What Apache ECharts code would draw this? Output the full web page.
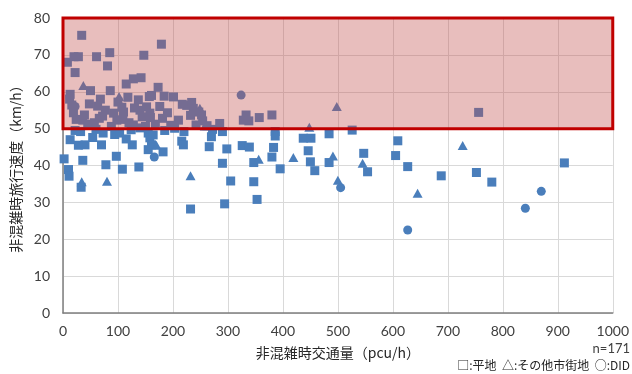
<!DOCTYPE html>
<html>
<head>
<meta charset="utf-8">
<script src="https://cdn.jsdelivr.net/npm/echarts@6/dist/echarts.min.js"></script>
<style>
  html, body { margin: 0; padding: 0; background: #ffffff; }
  #chart { width: 632px; height: 374px; }
</style>
</head>
<body>
<div id="chart"></div>
<script>
// Uncongested traffic volume (pcu/h) vs. uncongested travel speed (km/h)
// 平地 (flat land) sections
const plainPts = [
  [34,75.3],[8,68],[22,65.2],[20,69.5],[28,69.5],[61,69.5],[85,70.6],[81,67],[147,69.9],[179,72.9],
  [13,59.3],[12,58],[50,60.3],[86,60.3],[115,62.1],[128,63.5],[142,63.8],[173,61.2],[184,58.8],[201,58.6],
  [157,58.7],[137,57.8],[68,58],[16,56.4],[48,56.7],[63,56.1],[77,55],[107,55.8],[110,54.5],[140,55],
  [152,55.9],[176,56],[217,56.6],[225,56.3],[234,57.1],[237,55.5],[247,54.5],[252,53.7],[39,53.7],[66,52.8],
  [36,52.3],[98,52.3],[109,52.5],[144,53.2],[159,53],[181,52.8],[128,51],[19,54.3],[285,51.4],[333,53.7],
  [328,52.3],[338,52.1],[357,53],[380,53.7],[756,54.4],[161,59],[158,54.2],[254,52.1],
  [92,54.2],[120,51.6],[168,51.2],[196,50.9],[57,51.6],[232,53.6],[262,50.8],[100,57.2],[45,51.2],
  [88,50.6],[150,50.6],[210,52.3],[242,51],[24,52.5],[130,55.6],[190,54.3],[72,53.4],[118,58.5],
  [13,47],[22,49.5],[32,49.2],[54,47.6],[40,45.6],[70,45.6],[73,48.8],[94,48.4],[103,48.8],[126,45.6],
  [124,49.7],[155,48.8],[158,47.5],[155,44.3],[182,43.7],[2,41.8],[36,41.4],[97,42.5],[78,40.2],[108,39],
  [138,39.6],[10,38.9],[11,37.1],[33,34.1],[203,50.1],[220,49.2],[216,46.6],[219,45.6],[270,47.8],[272,49.8],
  [290,49.2],[266,45.1],[298,44.5],[326,45.4],[339,45],[290,40.6],[305,35.8],[294,29.6],[232,28.2],[161,45.6],
  [164,48.3],[386,49.2],[386,48],[484,48.6],[526,49.6],[437,47.4],[451,47.4],[383,44.9],[446,44],[547,43.3],
  [347,40.8],[380,42.3],[450,41],[484,40.8],[395,39.1],[458,38.6],[347,35.6],[353,30.8],[554,38.3],[609,46.7],
  [605,42.7],[627,39.7],[688,37.2],[752,38.1],[780,35.5],[912,40.7],
  [60,49.8],[140,50.2],[185,49.5],[115,47.2],[28,45.5]
];
// その他市街地 (other urban) sections
const otherPts = [
  [37,61.7],[102,58.7],[249,55.5],[498,56],[258,50.7],[448,50.4],[356,41.7],[419,42.2],[491,42.6],
  [545,40.6],[500,36],[645,32.5],[727,45.4],[232,37.2],[34,35.6],[80,35.7],[170,45.5]
];
// DID sections
const didPts = [
  [324,59.1],[166,42.3],[505,34],[627,22.5],[841,28.4],[870,33],[22,56]
];
// speed band highlighted as the free-flow zone
const slowBand = [50, 80];
const xRange = { min: 0, max: 1000, step: 100 };
const yRange = { min: 0, max: 80, step: 10 };

const blue = '#4A7EBB';
const numFont = 'Lato, "Noto Sans CJK JP", sans-serif';
const jpFont = '"Noto Sans CJK JP", sans-serif';

const chart = echarts.init(document.getElementById('chart'), null, { renderer: 'canvas' });
chart.setOption({
  animation: false,
  backgroundColor: '#ffffff',
  grid: { left: 63, right: 17, top: 18, bottom: 61, containLabel: false },
  xAxis: {
    type: 'value',
    min: xRange.min, max: xRange.max, interval: xRange.step,
    name: '非混雑時交通量（pcu/h）',
    nameLocation: 'middle',
    nameGap: 33,
    nameTextStyle: { fontFamily: jpFont, fontSize: 14, color: '#262626' },
    axisLine: { lineStyle: { color: '#7F7F7F', width: 1.5 } },
    axisTick: { show: false },
    axisLabel: { fontFamily: numFont, fontSize: 14, color: '#404040', margin: 11,
                 formatter: (v) => String(v) },
    splitLine: { show: true, lineStyle: { color: '#D9D9D9', width: 1 } }
  },
  yAxis: {
    type: 'value',
    min: yRange.min, max: yRange.max, interval: yRange.step,
    name: '非混雑時旅行速度（km/h）',
    nameLocation: 'middle',
    nameGap: 38,
    nameTextStyle: { fontFamily: jpFont, fontSize: 14, color: '#262626' },
    axisLine: { show: true, lineStyle: { color: '#7F7F7F', width: 1.5 } },
    axisTick: { show: false },
    axisLabel: { fontFamily: numFont, fontSize: 14, color: '#404040', margin: 13,
                 formatter: (v) => String(v) },
    splitLine: { show: true, lineStyle: { color: '#D9D9D9', width: 1 } }
  },
  series: [
    {
      name: '平地', type: 'scatter', data: plainPts,
      symbol: 'rect', symbolSize: 9, z: 2,
      itemStyle: { color: blue, opacity: 1 }
    },
    {
      name: 'その他市街地', type: 'scatter', data: otherPts,
      symbol: 'triangle', symbolSize: [10, 9], z: 2,
      itemStyle: { color: blue, opacity: 1 }
    },
    {
      name: 'DID', type: 'scatter', data: didPts,
      symbol: 'circle', symbolSize: 9, z: 2,
      itemStyle: { color: blue, opacity: 1 }
    },
    {
      name: 'band', type: 'line', data: [], z: 10,
      markArea: {
        silent: true,
        z: 10,
        itemStyle: { color: 'rgba(192,80,77,0.37)', borderColor: '#C00000', borderWidth: 3 },
        data: [[
          { xAxis: xRange.min, yAxis: slowBand[1] },
          { xAxis: xRange.max, yAxis: slowBand[0] }
        ]]
      }
    }
  ],
  graphic: [
    {
      type: 'text', right: 2, top: 342,
      style: { text: 'n=171', font: '13px ' + numFont, fill: '#404040' }
    },
    {
      type: 'text', right: 2, top: 359,
      style: { text: '□:平地  △:その他市街地  ○:DID', font: '12px ' + jpFont, fill: '#262626' }
    }
  ]
});
</script>
</body>
</html>
